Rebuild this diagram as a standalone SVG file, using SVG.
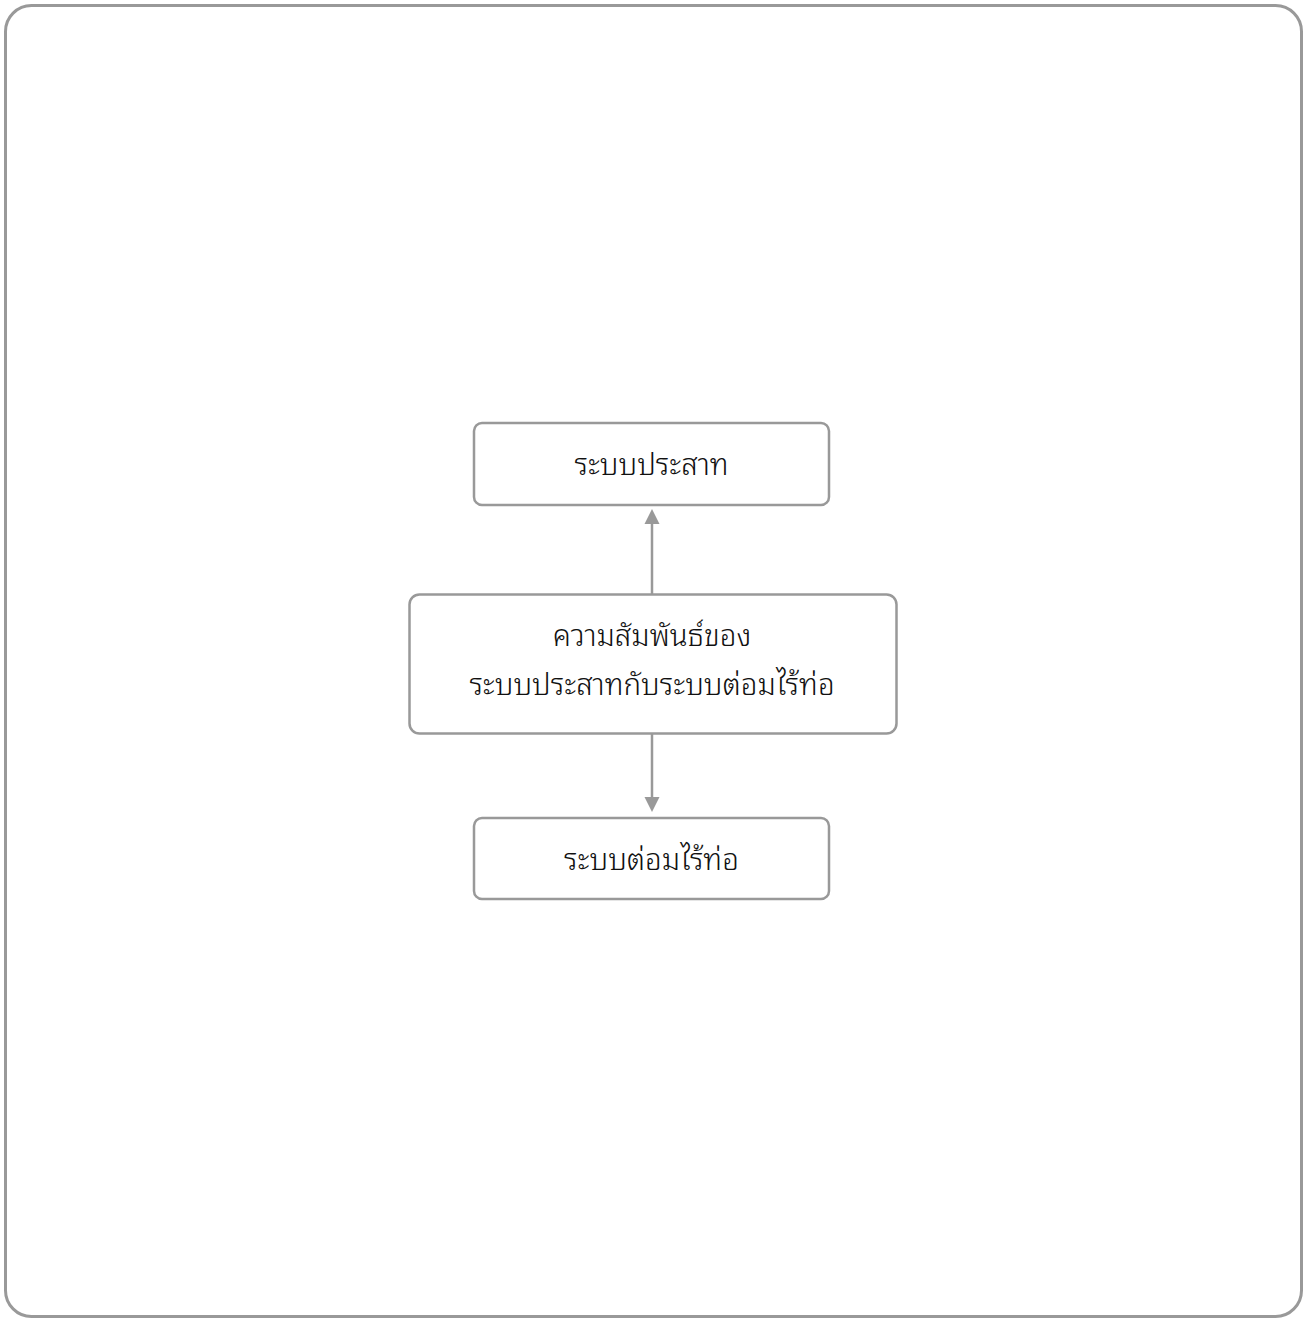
<svg xmlns="http://www.w3.org/2000/svg" width="1311" height="1319" viewBox="0 0 1311 1319">
<style>
.frame{fill:#ffffff;stroke:#999999;stroke-width:3}
.box{fill:#ffffff;stroke:#999999;stroke-width:2.5}
.lbl{font-family:"Noto Sans Thai Looped","Loma","Garuda","Waree","Noto Sans Thai","Noto Sans",sans-serif;font-size:29.5px;font-weight:300;fill:#111111;text-anchor:middle}
.conn{stroke:#999999;stroke-width:2.5;fill:none}
.head{fill:#999999}
</style>
<rect class="frame" x="5.5" y="5.5" width="1296" height="1311" rx="26"/>
<g id="connectors">
<line class="conn" x1="652" y1="594" x2="652" y2="522"/>
<path class="head" d="M644.5,524 L652,509 L659.5,524 z"/>
<line class="conn" x1="652" y1="734" x2="652" y2="799"/>
<path class="head" d="M644.5,797 L652,812 L659.5,797 z"/>
</g>
<g id="node-nervous">
<rect class="box" x="474" y="423" width="355" height="82" rx="8"/>
<text class="lbl" x="651.5" y="475">ระบบประสาท</text>
</g>
<g id="node-relation">
<rect class="box" x="409.5" y="594.5" width="487" height="139" rx="10"/>
<text class="lbl" x="652" y="646">ความสัมพันธ์ของ</text>
<text class="lbl" x="652" y="695">ระบบประสาทกับระบบต่อมไร้ท่อ</text>
</g>
<g id="node-endocrine">
<rect class="box" x="474" y="818" width="355" height="81" rx="8"/>
<text class="lbl" x="651.5" y="870">ระบบต่อมไร้ท่อ</text>
</g>
</svg>
